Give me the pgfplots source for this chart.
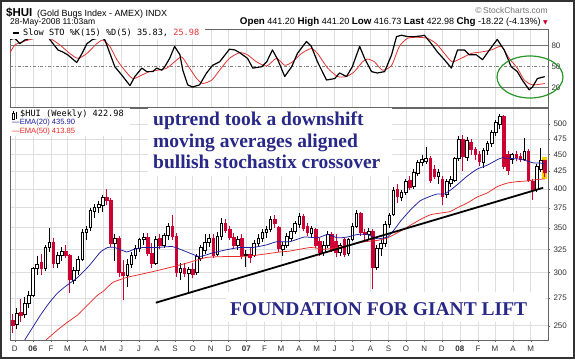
\documentclass[border=0pt]{standalone}
\usepackage{pgfplots}
\pgfplotsset{compat=1.18}
\usepackage{fontspec}
\setmainfont{Liberation Sans}
\newfontfamily\serifbold{Liberation Serif}
\newfontfamily\monofont{DejaVu Sans Mono}
\newfontfamily\symfont{DejaVu Sans}
\definecolor{hrred}{RGB}{204,0,51}
\definecolor{emablue}{RGB}{30,30,160}
\definecolor{emared}{RGB}{235,40,40}
\definecolor{stored}{RGB}{230,50,50}
\definecolor{navy}{RGB}{40,40,135}
\definecolor{ellgreen}{RGB}{40,150,40}
\definecolor{hlyellow}{RGB}{255,204,0}

% candle: index k (x = k-5), open, high, low, close
\newcommand{\candle}[5]{%
  \pgfmathsetmacro\cx{#1-5}%
  \pgfmathsetmacro\cxa{#1-5-0.32}%
  \pgfmathsetmacro\cxb{#1-5+0.32}%
  \ifdim #5pt<#2pt
    \edef\candlecmd{\noexpand\addplot[draw=hrred, line width=0.75pt, forget plot] coordinates {(\cx,#4) (\cx,#3)};%
      \noexpand\addplot[draw=hrred, fill=hrred, line width=0.5pt, forget plot] coordinates {(\cxa,#2) (\cxb,#2) (\cxb,#5) (\cxa,#5)} -- cycle;}%
  \else
    \edef\candlecmd{\noexpand\addplot[draw=black, line width=0.75pt, forget plot] coordinates {(\cx,#4) (\cx,#3)};%
      \noexpand\addplot[draw=black, fill=white, line width=0.5pt, forget plot] coordinates {(\cxa,#2) (\cxb,#2) (\cxb,#5) (\cxa,#5)} -- cycle;}%
  \fi
  \candlecmd
}

\pgfplotsset{hrbase/.style={
  scale only axis, width=538pt, xmin=-5.6, xmax=125.8,
  xtick={-4.43,0,4.43,8.43,12.86,17.14,21.57,25.86,30.29,34.71,39,43.43,47.71,52.14,56.57,60.57,65,69.29,73.71,78,82.43,86.86,91.14,95.57,99.86,104.29,108.71,112.86,117.29,121.57},
  xmajorgrids, major grid style={black!13, line width=0.5pt},
  axis line style={black!60, line width=0.6pt},
  tick style={black!60}, tick label style={font=\fontsize{8}{9}\selectfont, text=black!80},
  clip=true}}

\begin{document}
\begin{tikzpicture}
\useasboundingbox (0pt,0pt) rectangle (575pt,359pt);
\fill[white] (0pt,0pt) rectangle (575pt,359pt);

% ---------------- Stochastic panel ----------------
\begin{axis}[hrbase, at={(10pt,252pt)}, anchor=south west, height=78pt,
  ymin=-7.6, ymax=103.9, xticklabels={},
  ytick={20,50,80}, yticklabels={20,50,80},
  ytick pos=right, yticklabel pos=right, xtick pos=left,
  major tick length=0pt]
\addplot[black!55, line width=0.7pt] coordinates {(-5.6,80) (125.8,80)};
\addplot[black!55, line width=0.7pt] coordinates {(-5.6,20) (125.8,20)};
\addplot[black!50, line width=0.6pt, dash dot] coordinates {(-5.6,50) (125.8,50)};
% %D (5)
\addplot[stored, line width=0.8pt, smooth, tension=0.4] coordinates {
(-5.6,70) (-4.4,81) (-2.4,86) (1.7,92) (4.1,90.6) (6.6,81) (9.0,69) (11.0,62) (13.2,69) (15.6,83) (17.1,88) (18.8,79) (20.5,60) (22.4,45) (24.4,33) (26.6,38) (28.5,43) (30.5,45) (32.7,48) (34.6,57) (36.3,64) (37.8,52) (40.0,33) (41.5,26) (43.7,31) (45.6,45) (48.0,62) (50.5,70) (52.4,67) (54.6,57) (57.1,51) (59.5,62) (61.5,52) (63.4,57) (65.6,69) (68.0,76) (69.5,69) (72.0,48) (74.4,36) (76.6,36) (78.5,43) (80.5,57) (81.7,61) (83.4,57) (85.4,45) (87.6,52) (89.5,79) (91.5,90.6) (93.9,92) (96.3,90.6) (98.5,83) (100.5,69) (102.4,57) (104.6,62) (107.1,69) (109.5,71) (112.0,74) (114.4,79) (116.3,62) (118.3,48) (120.0,31) (122.0,24) (125,25.98)};
% %K (15)
\addplot[black, line width=1.2pt, line join=round] coordinates {
(-5.6,89) (-4.4,90.6) (-3.2,83) (-2.0,88) (-0.7,90.6) (1.7,93) (3.7,92) (4.9,83) (6.1,74) (7.3,71) (8.5,67) (10.7,56) (12.0,69) (13.2,83) (14.6,89) (16.8,92) (17.6,88) (18.8,69) (20.0,50) (21.7,38) (23.7,23) (24.9,36) (26.6,48) (27.8,43) (29.3,43) (30.2,48) (31.5,45) (32.2,50) (33.4,62) (34.6,79) (35.9,67) (36.6,45) (37.8,24) (39.0,21) (40.7,24) (42.4,41) (43.9,52) (45.6,57) (48.0,75) (49.3,74) (50.5,70) (52.4,62) (53.7,48) (55.9,50) (57.1,57) (58.5,74) (59.8,60) (61.5,36) (63.2,50) (64.6,69) (66.8,86) (68.0,79) (69.5,57) (71.7,31) (73.7,33) (74.9,41) (76.6,36) (78.0,50) (79.8,79) (81.0,62) (82.7,43) (84.1,41) (85.9,43) (87.6,67) (88.8,93) (90.0,95) (91.5,93) (93.2,93) (94.9,94) (95.6,95) (97.3,83) (98.8,71) (100.5,60) (102.2,48) (103.7,74) (105.4,74) (106.6,67) (108.3,67) (109.8,60) (111.5,74) (113.4,89) (115.1,74) (116.8,50) (118.3,43) (119.5,31) (121.2,17) (122.0,21) (123.2,33) (125,35.83)};
\end{axis}

% ---------------- Price panel ----------------
\begin{axis}[hrbase, at={(10pt,19pt)}, anchor=south west, height=232pt,
  ymode=log, ymin=238, ymax=528,
  ytick={250,275,300,325,350,375,400,425,450,475,500},
  yticklabels={250,275,300,325,350,375,400,425,450,475,500},
  yminorticks=false, ymajorgrids,
  ytick pos=right, yticklabel pos=right, xtick pos=left,
  major tick length=2pt, tick align=outside,
  xticklabels={D,\textbf{06},F,M,A,M,J,J,A,S,O,N,D,\textbf{07},F,M,A,M,J,J,A,S,O,N,D,\textbf{08},F,M,A,M}]
% highlight of the last bar
\addplot[fill=hlyellow, draw=none, forget plot] coordinates {(124.45,446) (125.6,446) (125.6,414) (124.45,414)} -- cycle;
\candle{0}{255}{260}{244}{250}
\candle{1}{251}{266}{247}{261}
\candle{2}{262}{274}{253}{259}
\candle{3}{260}{276}{257}{270}
\candle{4}{270}{282}{266}{278}
\candle{5}{278}{306}{276}{304}
\candle{6}{304}{318}{298}{309}
\candle{7}{311}{320}{298}{304}
\candle{8}{305}{330}{302}{327}
\candle{9}{327}{350}{322}{333}
\candle{10}{333}{338}{305}{310}
\candle{11}{310}{322}{305}{318}
\candle{12}{318}{328}{312}{323}
\candle{13}{323}{330}{315}{318}
\candle{14}{318}{320}{280}{293}
\candle{15}{292}{306}{288}{302}
\candle{16}{302}{318}{298}{314}
\candle{17}{314}{348}{312}{344}
\candle{18}{344}{352}{335}{348}
\candle{19}{350}{375}{346}{372}
\candle{20}{370}{380}{362}{376}
\candle{21}{376}{384}{368}{380}
\candle{22}{378}{392}{370}{388}
\candle{23}{388}{400}{378}{384}
\candle{24}{384}{388}{328}{332}
\candle{25}{332}{342}{312}{337}
\candle{26}{338}{340}{296}{300}
\candle{27}{300}{313}{273}{297}
\candle{28}{297}{314}{286}{309}
\candle{29}{309}{322}{305}{318}
\candle{30}{318}{330}{314}{326}
\candle{31}{326}{338}{322}{336}
\candle{32}{336}{344}{330}{339}
\candle{33}{339}{344}{318}{321}
\candle{34}{321}{332}{305}{310}
\candle{35}{310}{340}{308}{336}
\candle{36}{338}{342}{325}{330}
\candle{37}{330}{344}{326}{341}
\candle{38}{341}{356}{336}{352}
\candle{39}{352}{366}{336}{340}
\candle{40}{340}{344}{296}{300}
\candle{41}{300}{310}{292}{304}
\candle{42}{304}{310}{295}{299}
\candle{43}{299}{306}{280}{303}
\candle{44}{303}{310}{294}{298}
\candle{45}{300}{320}{298}{317}
\candle{46}{315}{330}{312}{327}
\candle{47}{324}{342}{320}{333}
\candle{48}{333}{342}{328}{338}
\candle{49}{338}{342}{315}{318}
\candle{50}{320}{345}{318}{340}
\candle{51}{340}{362}{336}{355}
\candle{52}{356}{360}{344}{347}
\candle{53}{348}{352}{336}{339}
\candle{54}{339}{344}{326}{330}
\candle{55}{330}{340}{324}{336}
\candle{56}{338}{342}{314}{318}
\candle{57}{318}{324}{306}{320}
\candle{58}{320}{326}{310}{316}
\candle{59}{318}{335}{316}{332}
\candle{60}{332}{342}{328}{338}
\candle{61}{337}{348}{333}{345}
\candle{62}{344}{352}{338}{348}
\candle{63}{348}{364}{345}{360}
\candle{64}{360}{366}{350}{356}
\candle{65}{350}{352}{322}{326}
\candle{66}{325}{333}{318}{329}
\candle{67}{329}{344}{326}{340}
\candle{68}{338}{350}{334}{346}
\candle{69}{346}{358}{342}{355}
\candle{70}{354}{368}{350}{364}
\candle{71}{364}{367}{346}{349}
\candle{72}{352}{356}{340}{344}
\candle{73}{343}{352}{338}{349}
\candle{74}{348}{350}{326}{330}
\candle{75}{334}{338}{318}{322}
\candle{76}{322}{334}{318}{330}
\candle{77}{330}{346}{326}{342}
\candle{78}{342}{345}{322}{325}
\candle{79}{334}{342}{316}{322}
\candle{80}{322}{332}{318}{329}
\candle{81}{336}{338}{316}{320}
\candle{82}{321}{338}{318}{336}
\candle{83}{336}{356}{334}{352}
\candle{84}{352}{372}{350}{368}
\candle{85}{368}{370}{340}{344}
\candle{86}{344}{348}{336}{342}
\candle{87}{342}{350}{336}{346}
\candle{88}{346}{349}{284}{306}
\candle{89}{306}{330}{303}{326}
\candle{90}{326}{336}{318}{332}
\candle{91}{332}{358}{328}{354}
\candle{92}{354}{368}{350}{365}
\candle{93}{366}{402}{364}{398}
\candle{94}{400}{406}{381}{390}
\candle{95}{388}{398}{383}{395}
\candle{96}{395}{414}{392}{410}
\candle{97}{412}{418}{398}{402}
\candle{98}{403}{428}{400}{424}
\candle{99}{422}{442}{418}{438}
\candle{100}{438}{450}{432}{442}
\candle{101}{440}{461}{436}{444}
\candle{102}{444}{448}{408}{412}
\candle{103}{428}{434}{414}{418}
\candle{104}{418}{428}{406}{424}
\candle{105}{414}{418}{378}{390}
\candle{106}{392}{414}{388}{410}
\candle{107}{408}{418}{402}{414}
\candle{108}{412}{446}{410}{444}
\candle{109}{444}{480}{440}{474}
\candle{110}{474}{482}{425}{448}
\candle{111}{446}{478}{440}{472}
\candle{112}{470}{475}{450}{458}
\candle{113}{458}{462}{442}{450}
\candle{114}{450}{455}{432}{440}
\candle{115}{438}{460}{430}{456}
\candle{116}{456}{472}{450}{468}
\candle{117}{468}{490}{462}{486}
\candle{118}{486}{506}{480}{502}
\candle{119}{500}{518}{492}{514}
\candle{120}{514}{516}{428}{432}
\candle{121}{450}{455}{420}{426}
\candle{122}{442}{452}{436}{450}
\candle{123}{450}{456}{440}{446}
\candle{124}{448}{452}{438}{442}
\candle{125}{442}{476}{440}{455}
\candle{126}{455}{458}{410}{412}
\candle{127}{410}{414}{385}{398}
\candle{128}{400}{436}{396}{432}
\candle{129}{428}{460}{424}{441.2}
\candle{130}{441.2}{441.2}{416.73}{422.98}
% EMA(50)
\addplot[emared, line width=0.75pt, smooth, tension=0.3] coordinates {
(3.2,238) (6.1,246.6) (8.3,252.6) (11,259.6) (12.7,266) (15.9,278) (17.1,281) (19.5,290) (22.9,295) (26.1,298) (29.3,301) (34.1,306) (37.6,310) (42.4,316) (47.3,317) (50.5,317) (53.7,318) (57.1,320) (60.2,322) (62.7,323) (67.8,327) (71.2,325) (74.4,327) (77.6,330) (81,333.5) (84.1,335) (86.6,338) (89.8,346) (92.2,353) (94.6,360) (97.1,366) (99.5,368) (101.9,370) (103.7,375) (106.1,381) (108.5,389) (111,394.5) (113.4,403) (115.9,408) (118.3,410) (120.7,411) (123.2,413) (125,413.85)};
% EMA(20)
\addplot[emablue, line width=0.75pt, smooth, tension=0.3] coordinates {
(-2,238) (1.8,259) (4.1,271) (6.1,280) (8.4,287.5) (10.9,295) (13.7,307) (16.5,322) (18.3,327) (20,327) (22.9,322) (24.4,324.5) (26.8,327) (30.2,327) (34.1,328) (37.6,322) (40.7,317) (43.9,321) (47.3,324.5) (50.5,327) (53.7,327) (57.1,330) (59.5,333.5) (62.7,333.5) (66.3,339) (69.5,338) (72,342) (74.4,338) (76.8,339) (79.3,342) (81.7,342) (84.1,337) (86.6,339) (88.3,348) (89.8,358) (92.2,372) (94.6,384) (97.1,390) (98.8,393) (100.5,393) (101.9,398) (103.7,406) (106.1,418) (108.5,428) (111,434) (113.4,442) (114.6,445) (116.6,444) (119,443) (120.7,440) (122.4,437) (123.9,437) (125,435.9)};
% trend line
\addplot[black, line width=1.8pt] coordinates {(30,270.5) (124.6,401.4)};
\end{axis}

% white boxes behind legends / annotations
\fill[white] (10.4pt,320.3pt) rectangle (205pt,329.6pt);
\fill[white] (10.4pt,223pt) rectangle (130pt,250.6pt);
\fill[white] (148pt,183pt) rectangle (392pt,250.6pt);
\fill[white] (226pt,37pt) rectangle (545pt,67pt);

% stochastic legend
\draw[black, line width=1.2pt] (13pt,326pt) -- (19pt,326pt);
\node[anchor=base west, inner sep=0pt] at (23pt,323.7pt) {\monofont\fontsize{8.6}{9}\selectfont Slow STO \%K(15) \%D(5) 35.83, \textcolor{stored}{25.98}};
% price legend
\draw[black, line width=0.5pt] (13.5pt,238.5pt) -- (13.5pt,247.5pt);
\draw[black, fill=white, line width=0.5pt] (12.6pt,240pt) rectangle (14.4pt,246pt);
\draw[black, line width=0.5pt] (16.5pt,239.5pt) -- (16.5pt,247pt);
\fill[black] (15.6pt,241pt) rectangle (17.4pt,245pt);
\node[anchor=base west, inner sep=0pt] at (20pt,242.3pt) {\monofont\fontsize{8.6}{9}\selectfont \$HUI (Weekly) 422.98};
\node[anchor=base west, inner sep=0pt, text=emablue] at (12pt,234.7pt) {\fontsize{7.6}{9}\selectfont —EMA(20) 435.90};
\node[anchor=base west, inner sep=0pt, text=emared] at (12pt,225.7pt) {\fontsize{7.6}{9}\selectfont —EMA(50) 413.85};

% annotations
\begin{scope}[every node/.style={anchor=base west, inner sep=0pt, text=navy, font=\serifbold\bfseries\fontsize{19.5}{21}\selectfont}]
\node at (153pt,233pt) {uptrend took a downshift};
\node at (153pt,211pt) {moving averages aligned};
\node at (153pt,190pt) {bullish stochastix crossover};
\node at (230pt,44pt) {FOUNDATION FOR GIANT LIFT};
\end{scope}

% green ellipse
\draw[ellgreen, line width=1.2pt] (530pt,282pt) ellipse [x radius=33pt, y radius=21pt];

% header
\node[anchor=base west, inner sep=0pt] at (6pt,342.5pt) {\fontsize{11.5}{12}\selectfont\bfseries \$HUI};
\node[anchor=base west, inner sep=0pt] at (37pt,342.5pt) {\fontsize{9}{10}\selectfont (Gold Bugs Index - AMEX) INDX};
\node[anchor=base west, inner sep=0pt] at (10pt,334.5pt) {\fontsize{8.5}{9}\selectfont 28-May-2008 11:03am};
\node[anchor=base east, inner sep=0pt, text=black!55] at (548pt,345pt) {\fontsize{8.5}{9}\selectfont ©\,StockCharts.com};
\node[anchor=base east, inner sep=0pt] at (548pt,334.5pt) {\fontsize{9}{10}\selectfont {\fontsize{9.8}{10}\selectfont\bfseries Open} 441.20 {\fontsize{9.8}{10}\selectfont\bfseries High} 441.20 {\fontsize{9.8}{10}\selectfont\bfseries Low} 416.73 {\fontsize{9.8}{10}\selectfont\bfseries Last} 422.98 {\fontsize{9.8}{10}\selectfont\bfseries Chg} -18.22 (-4.13\%) {\symfont\fontsize{6}{7}\selectfont\textcolor{hrred}{▼}}};

% outer frame
\draw[black!80, line width=2pt] (1pt,1pt) rectangle (574pt,358pt);
\end{tikzpicture}
\end{document}
